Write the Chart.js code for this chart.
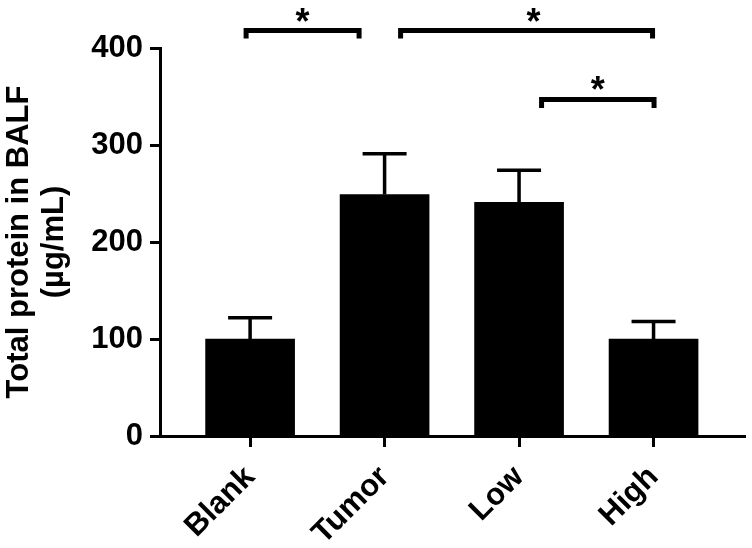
<!DOCTYPE html>
<html>
<head>
<meta charset="utf-8">
<script src="https://cdn.jsdelivr.net/npm/chart.js@4.4.1/dist/chart.umd.min.js"></script>
<style>
  html, body { margin: 0; padding: 0; background: #fff; }
  canvas { display: block; }
</style>
</head>
<body>
<canvas id="chart" width="752" height="548"></canvas>
<script>
// ── data ─────────────────────────────────────────────
const categories = ['Blank', 'Tumor', 'Low', 'High'];
const means      = [100, 249, 241, 100];
const errors     = [22, 42, 33, 18];
const yTicks     = [0, 100, 200, 300, 400];
const sigPairs   = [[0, 1], [1, 3], [2, 3]];
const sigMarks   = ['*', '*', '*'];

const FONT = "'Liberation Sans', Arial, Helvetica, sans-serif";

// ── error bars (upper only, Prism style) ─────────────
const errorBars = {
    id: 'errorBars',
    afterDatasetsDraw(chart) {
        const { ctx, scales: { y } } = chart;
        const meta = chart.getDatasetMeta(0);
        ctx.save();
        ctx.strokeStyle = '#000';
        ctx.lineWidth = 3.5;
        meta.data.forEach((bar, i) => {
            const top = y.getPixelForValue(means[i] + errors[i]);
            ctx.beginPath();
            ctx.moveTo(bar.x, bar.y);
            ctx.lineTo(bar.x, top);
            ctx.moveTo(bar.x - 22, top);
            ctx.lineTo(bar.x + 22, top);
            ctx.stroke();
        });
        ctx.restore();
    }
};

// ── significance brackets ────────────────────────────
const sigBrackets = {
    id: 'sigBrackets',
    afterDraw(chart, args, opts) {
        const { ctx, scales: { x, y } } = chart;
        ctx.save();
        ctx.strokeStyle = '#000';
        ctx.fillStyle = '#000';
        ctx.lineWidth = 5;
        ctx.lineJoin = 'miter';
        ctx.lineCap = 'butt';
        ctx.font = `bold ${opts.starSize}px ${FONT}`;
        ctx.textAlign = 'center';
        ctx.textBaseline = 'alphabetic';
        sigPairs.forEach(([a, b], i) => {
            const g = opts.layout[i];
            const x1 = x.getPixelForValue(a + 1) + g.dx[0];
            const x2 = x.getPixelForValue(b + 1) + g.dx[1];
            const ly = y.getPixelForValue(g.level);
            ctx.beginPath();
            ctx.moveTo(x1, ly + g.leg);
            ctx.lineTo(x1, ly);
            ctx.lineTo(x2, ly);
            ctx.lineTo(x2, ly + g.leg);
            ctx.stroke();
            // keep the glyph's bottom ~9px above the bracket line
            const m = ctx.measureText(sigMarks[i]);
            ctx.fillText(sigMarks[i], (x1 + x2) / 2 + (g.starDx || 0), ly - 9 - m.actualBoundingBoxDescent);
        });
        ctx.restore();
    }
};

new Chart(document.getElementById('chart'), {
    type: 'bar',
    data: {
        datasets: [{
            data: categories.map((c, i) => ({ x: i + 1, y: means[i] })),
            backgroundColor: '#000',
            borderWidth: 0,
            barThickness: 89,
        }],
    },
    options: {
        responsive: false,
        animation: false,
        devicePixelRatio: 1,
        layout: { padding: { top: 48, right: 7, bottom: 0, left: 0 } },
        plugins: {
            legend: { display: false },
            tooltip: { enabled: false },
            sigBrackets: {
                starSize: 36,
                layout: [
                    { dx: [-4, -25.5], level: 418, leg: 8 },
                    { dx: [16, -1],    level: 418, leg: 8, starDx: 7 },
                    { dx: [22.5, 0.5], level: 347, leg: 8.5 },
                ],
            },
        },
        scales: {
            x: {
                type: 'linear',
                offset: false,
                min: 0.33,
                max: 4.68,
                afterBuildTicks: s => { s.ticks = categories.map((c, i) => ({ value: i + 1 })); },
                afterFit: s => { s.height = 112; },
                grid: { offset: false, drawOnChartArea: false, drawTicks: true, tickLength: 11, tickWidth: 3, tickColor: '#000' },
                border: { display: true, color: '#000', width: 3 },
                ticks: {
                    autoSkip: false,
                    minRotation: 45, maxRotation: 45,
                    padding: 12,
                    color: '#000',
                    font: { family: FONT, size: 31, weight: 'bold' },
                    callback: v => categories[v - 1],
                },
            },
            y: {
                min: 0, max: 400,
                afterBuildTicks: s => { s.ticks = yTicks.map(v => ({ value: v })); },
                afterFit: s => { s.width = 160; },
                grid: { drawOnChartArea: false, drawTicks: true, tickLength: 10, tickWidth: 3, tickColor: '#000' },
                border: { display: true, color: '#000', width: 3 },
                ticks: {
                    padding: 7,
                    color: '#000',
                    font: { family: FONT, size: 31, weight: 'bold' },
                },
                title: {
                    display: true,
                    text: ['Total protein in BALF', '(µg/mL)'],
                    color: '#000',
                    padding: { top: 2, bottom: 0 },
                    font: { family: FONT, size: 31, weight: 'bold', lineHeight: 1.13 },
                },
            },
        },
    },
    plugins: [errorBars, sigBrackets],
});
</script>
</body>
</html>
